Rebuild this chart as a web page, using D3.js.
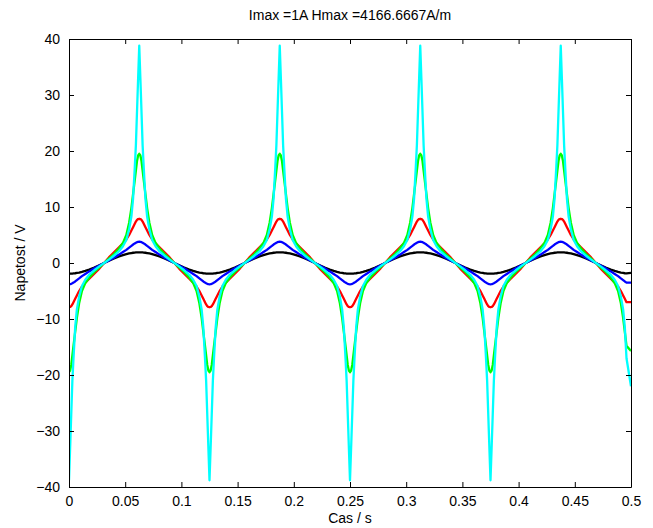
<!DOCTYPE html>
<html>
<head>
<meta charset="utf-8">
<script src="https://cdn.jsdelivr.net/npm/d3@7"></script>
<style>
  body { margin: 0; background: #fff; }
  text { font-family: "Liberation Sans", Arial, sans-serif; fill: #000; }
</style>
</head>
<body>
<div id="chart"></div>
<script>
// one period (ms, local time) of the induced voltage
var periodT = [0,1,2,3,4,5.5,7,9,11.5,14.5,18,22.5,27, 31.25,
  35.5,40,44.5,48,51,53.5,55.5,57,58.5,59.5,60.5,61.5, 62.5,
  63.5,64.5,65.5,66.5,68,69.5,71.5,74,77,80.5,85,89.5, 93.75,
  98,102.5,107,110.5,113.5,116,118,119.5,121,122,123,124];

var black = [-1.9,-1.9,-1.89,-1.88,-1.86,-1.83,-1.78,-1.71,-1.59,-1.41,-1.18,-0.81,-0.40, 0,
  0.40,0.81,1.18,1.41,1.59,1.71,1.78,1.83,1.86,1.88,1.89,1.9, 1.9,
  1.9,1.89,1.88,1.86,1.83,1.78,1.71,1.59,1.41,1.18,0.81,0.40, 0,
  -0.40,-0.81,-1.18,-1.41,-1.59,-1.71,-1.78,-1.83,-1.86,-1.88,-1.89,-1.9];

var blue = [-3.8,-3.78,-3.72,-3.62,-3.5,-3.3,-3.05,-2.75,-2.35,-1.95,-1.5,-0.95,-0.45, 0,
  0.45,0.95,1.5,1.95,2.35,2.75,3.05,3.3,3.5,3.62,3.72,3.78, 3.8,
  3.78,3.72,3.62,3.5,3.3,3.05,2.75,2.35,1.95,1.5,0.95,0.45, 0,
  -0.45,-0.95,-1.5,-1.95,-2.35,-2.75,-3.05,-3.3,-3.5,-3.62,-3.72,-3.78];

var red = [-7.9,-7.85,-7.7,-7.4,-7.0,-6.4,-5.8,-5.0,-4.2,-3.5,-2.8,-1.9,-1.0, 0,
  1.0,1.9,2.8,3.5,4.2,5.0,5.8,6.4,7.0,7.4,7.7,7.85, 7.9,
  7.85,7.7,7.4,7.0,6.4,5.8,5.0,4.2,3.5,2.8,1.9,1.0, 0,
  -1.0,-1.9,-2.8,-3.5,-4.2,-5.0,-5.8,-6.4,-7.0,-7.4,-7.7,-7.85];

var green = [-19.5,-19.2,-18.2,-16.5,-14.8,-12.3,-9.8,-7.2,-5.0,-3.6,-2.6,-1.6,-0.8, 0,
  0.8,1.6,2.6,3.6,5.0,7.2,9.8,12.3,14.8,16.5,18.2,19.2, 19.5,
  19.2,18.2,16.5,14.8,12.3,9.8,7.2,5.0,3.6,2.6,1.6,0.8, 0,
  -0.8,-1.6,-2.6,-3.6,-5.0,-7.2,-9.8,-12.3,-14.8,-16.5,-18.2,-19.2];

var cyan = [-38.8,-33,-27,-21,-17,-11.5,-8.3,-6.0,-4.1,-3.0,-2.1,-1.3,-0.6, 0,
  0.6,1.3,2.1,3.0,4.1,6.0,8.3,11.5,17,21,27,33, 38.8,
  33,27,21,17,11.5,8.3,6.0,4.1,3.0,2.1,1.3,0.6, 0,
  -0.6,-1.3,-2.1,-3.0,-4.1,-6.0,-8.3,-11.5,-17,-21,-27,-33];

var periodStarts = [0, 0.125, 0.25, 0.375];
var lastSampleT = 0.4965;      // samples after this are cut, then the end point
var endT = 0.5;
var endValues = [-1.75, -3.5, -7.0, -15.7, -22];

var seriesValues = [black, blue, red, green, cyan];
var seriesColors = ['#000000', '#0000ff', '#ff0000', '#00ff00', '#00ffff'];

var xTicks = [0, 0.05, 0.1, 0.15, 0.2, 0.25, 0.3, 0.35, 0.4, 0.45, 0.5];
var xTickLabels = ['0','0.05','0.1','0.15','0.2','0.25','0.3','0.35','0.4','0.45','0.5'];
var yTicks = [-40, -30, -20, -10, 0, 10, 20, 30, 40];

var titleText = 'Imax =1A Hmax =4166.6667A/m';
var xLabel = 'Cas / s';
var yLabel = 'Napetost / V';

var W = 653, H = 528,
  axL = 69, axR = 631, axT = 39, axB = 487;

var svg = d3.select('#chart').append('svg')
  .attr('width', W)
  .attr('height', H);

var x = d3.scaleLinear().domain([0, 0.5]).range([axL, axR]);
var y = d3.scaleLinear().domain([-40, 40]).range([axB, axT]);

svg.append('defs').append('clipPath').attr('id', 'clip')
  .append('rect')
    .attr('x', axL).attr('y', axT - 2)
    .attr('width', axR - axL).attr('height', axB - axT + 4);

// build the full series from the period samples
function buildSeries(si){
  var pts = [];
  periodStarts.forEach(function(p){
    periodT.forEach(function(t, i){
      var tt = p + t / 1000;
      if(tt <= lastSampleT) pts.push([tt, seriesValues[si][i]]);
    });
  });
  pts.push([endT, endValues[si]]);
  return pts;
}

var line = d3.line()
  .x(function(d){ return x(d[0]); })
  .y(function(d){ return y(d[1]); });

var plot = svg.append('g').attr('clip-path', 'url(#clip)');
seriesValues.forEach(function(v, si){
  plot.append('path')
    .datum(buildSeries(si))
    .attr('fill', 'none')
    .attr('stroke', seriesColors[si])
    .attr('stroke-width', 2.3)
    .attr('stroke-linejoin', 'round')
    .attr('d', line);
});

/*---------- AXES ----------*/
var tickLen = 5;

var xBottom = svg.append('g')
  .attr('transform', 'translate(0,' + axB + ')')
  .call(d3.axisBottom(x).tickValues(xTicks)
    .tickFormat(function(d, i){ return xTickLabels[i]; })
    .tickSizeInner(-tickLen).tickSizeOuter(0).tickPadding(9));

var xTop = svg.append('g')
  .attr('transform', 'translate(0,' + axT + ')')
  .call(d3.axisTop(x).tickValues(xTicks).tickFormat('')
    .tickSizeInner(-tickLen).tickSizeOuter(0));

var yLeft = svg.append('g')
  .attr('transform', 'translate(' + axL + ',0)')
  .call(d3.axisLeft(y).tickValues(yTicks).tickFormat(d3.format('d'))
    .tickSizeInner(-tickLen).tickSizeOuter(0).tickPadding(9));

var yRight = svg.append('g')
  .attr('transform', 'translate(' + axR + ',0)')
  .call(d3.axisRight(y).tickValues(yTicks).tickFormat('')
    .tickSizeInner(-tickLen).tickSizeOuter(0));

[xBottom, xTop, yLeft, yRight].forEach(function(g){
  g.select('.domain').attr('stroke', '#000').attr('stroke-width', 1);
  g.selectAll('.tick line').attr('stroke', '#000').attr('stroke-width', 1);
  g.selectAll('.tick text')
    .style('font-family', '"Liberation Sans", Arial, sans-serif')
    .style('font-size', '14px')
    .attr('fill', '#000');
});

svg.append('text')
  .attr('x', (axL + axR) / 2)
  .attr('y', 20)
  .attr('text-anchor', 'middle')
  .style('font-size', '14px')
  .text(titleText);

svg.append('text')
  .attr('x', (axL + axR) / 2)
  .attr('y', 523)
  .attr('text-anchor', 'middle')
  .style('font-size', '14px')
  .text(xLabel);

svg.append('text')
  .attr('transform', 'translate(25,' + ((axT + axB) / 2) + ') rotate(-90)')
  .attr('text-anchor', 'middle')
  .style('font-size', '14px')
  .text(yLabel);
</script>
</body>
</html>
